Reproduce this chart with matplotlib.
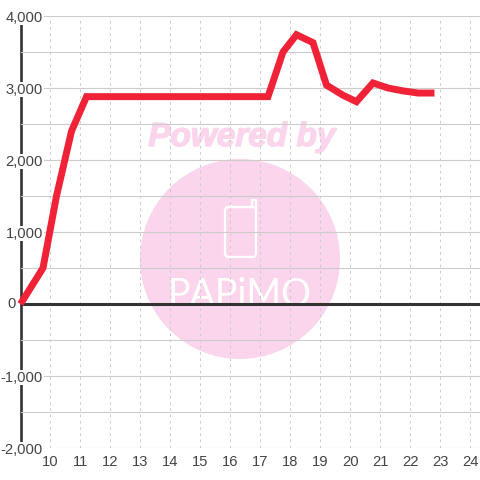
import matplotlib
matplotlib.use("Agg")
import matplotlib.pyplot as plt
import matplotlib.patheffects as pe
from matplotlib.patches import Circle, FancyBboxPatch
from matplotlib.ticker import FuncFormatter, MultipleLocator

# values
hours = [9.0, 9.75, 10.2, 10.7, 11.2, 11.75, 12.25, 12.75, 13.25, 13.75, 14.25, 14.75,
         15.25, 15.75, 16.25, 16.75, 17.25, 17.75, 18.2, 18.75, 19.2, 19.75, 20.2,
         20.75, 21.25, 21.75, 22.25, 22.8]
values = [0, 500, 1500, 2400, 2880, 2880, 2880, 2880, 2880, 2880, 2880, 2880,
          2880, 2880, 2880, 2880, 2880, 3500, 3740, 3630, 3040, 2900, 2810,
          3070, 3000, 2960, 2930, 2930]
x_ticks = list(range(10, 25))
y_ticks = [-2000, -1000, 1000, 2000, 3000, 4000]

PINK = "#fbd5ec"
GRID = "#cccccc"
DARK = "#333333"
TEXT = "#444444"

plt.rcParams["font.family"] = ["Liberation Sans", "DejaVu Sans"]

fig = plt.figure(figsize=(4.8, 4.8), dpi=100, facecolor="white")

# watermark sits under the chart, in pixel coordinates
bg = fig.add_axes([0, 0, 1, 1], zorder=0)
bg.set_xlim(0, 480)
bg.set_ylim(480, 0)
bg.axis("off")
bg.add_patch(Circle((240, 259), 100, facecolor=PINK, edgecolor="none"))
bg.text(242, 146, "Powered by", color=PINK, fontsize=24, fontweight="bold",
        fontstyle="italic", ha="center", va="baseline",
        path_effects=[pe.withStroke(linewidth=1, foreground=PINK)])
bg.add_patch(FancyBboxPatch((225, 207), 31, 50, boxstyle="round,pad=0,rounding_size=4",
                            facecolor="none", edgecolor="white", lw=1.6))
bg.plot([229, 252, 252, 256, 256], [207, 207, 200, 200, 212],
        color="white", lw=1.6, solid_joinstyle="round")
bg.text(240, 306, "PAPiMO", color="white", fontsize=27, family="Lato",
        ha="center", va="baseline")

ax = fig.add_axes([20.5 / 480, 32 / 480, 459.5 / 480, 432 / 480], zorder=1)
ax.patch.set_visible(False)
ax.set_xlim(9, 24.317)
ax.set_ylim(-2000, 4000)

ax.yaxis.set_minor_locator(MultipleLocator(500))
ax.set_xticks(x_ticks)
ax.set_yticks(y_ticks)
ax.yaxis.set_major_formatter(FuncFormatter(lambda v, _: f"{int(v):,}"))

ax.grid(True, axis="y", which="both", color=GRID, lw=0.8)
ax.grid(True, axis="x", which="major", color=GRID, lw=0.75, ls=(0, (2.5, 3.5)))
ax.tick_params(axis="both", which="both", length=0)
ax.tick_params(axis="x", labelsize=10.6, labelcolor=TEXT, pad=5)
ax.tick_params(axis="y", labelsize=10.6, labelcolor=TEXT, pad=-16.2)
for lab in ax.get_yticklabels():
    lab.set_bbox(dict(facecolor="white", edgecolor="none", pad=0.6))

# the zero label stands left of the axis line, not with the others
ax.annotate("0", xy=(0, 0), xycoords=("axes fraction", "data"), xytext=(-3.2, 0),
            textcoords="offset points", ha="right", va="center",
            fontsize=10.6, color=TEXT)

for side in ["top", "right", "bottom"]:
    ax.spines[side].set_visible(False)
ax.spines["left"].set_color(DARK)
ax.spines["left"].set_linewidth(1.9)
ax.yaxis.set_zorder(5)
ax.xaxis.set_zorder(4)

ax.axhline(0, color=DARK, lw=2.2, zorder=5.5)
ax.plot(hours, values, color="#f02237", lw=5, solid_joinstyle="miter",
        solid_capstyle="butt", zorder=6, clip_on=False)

fig.savefig("out.png", dpi=100)
